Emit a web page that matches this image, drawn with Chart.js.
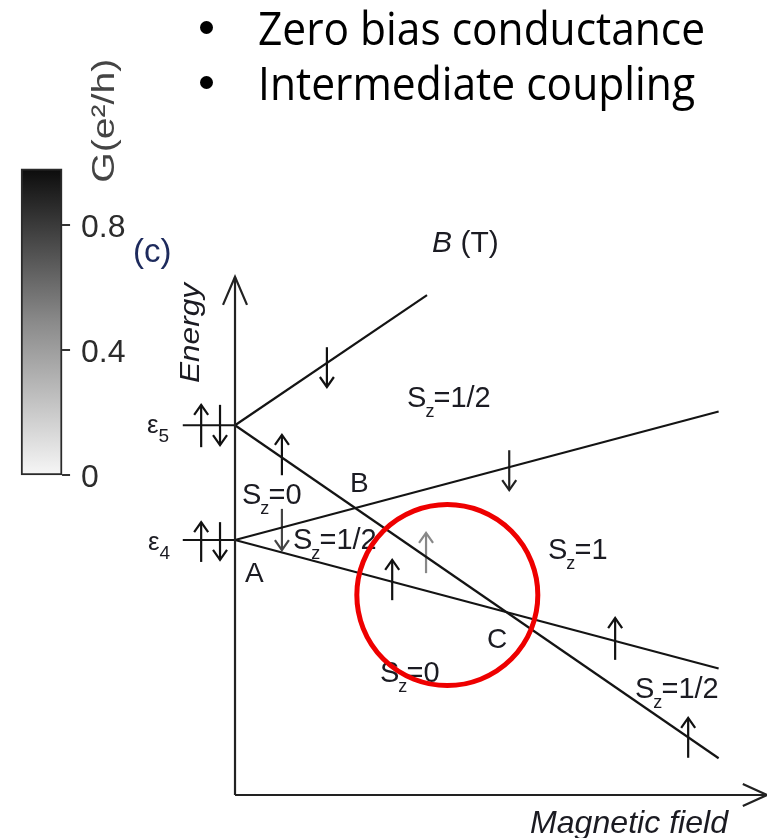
<!DOCTYPE html>
<html>
<head>
<meta charset="utf-8">
<script src="https://cdn.jsdelivr.net/npm/chart.js@4.4.1/dist/chart.umd.min.js"></script>
<style>
  html, body { margin:0; padding:0; background:#fff; width:767px; height:838px; overflow:hidden; }
  #wrap { position:relative; width:767px; height:838px; }
  #c { position:absolute; left:0; top:0; }
  .bl { position:absolute; left:0; top:0; font-family:"Open Sans", "Noto Sans", sans-serif; font-weight:400; font-size:45px; line-height:1; color:#000; white-space:nowrap; }
  .bl .txt { display:inline-block; transform-origin:0 50%; }
  .bl .mk { display:inline-block; width:0; height:0; vertical-align:baseline; }
  .dot { position:absolute; width:13px; height:13px; border-radius:50%; background:#000; }
</style>
</head>
<body>
<div id="wrap">
  <canvas id="c" width="767" height="838"></canvas>
</div>
<script>
// ================= DATA =================
// bullet text above the figure
const bulletItems = ['Zero bias conductance', 'Intermediate coupling'];

// colour bar of the conductance G (e^2/h)
const cbarTicks = [0, 0.4, 0.8];
const cbarTop = 0.98;
const cbarTitle = 'G(e²/h)';

// single-particle levels at zero field (energy, arbitrary units)
const levelSymbol = ['ε', 'ε'];
const levelIndex = ['5', '4'];
const levelEnergy = [7.25, 5.0];

// Zeeman branches: start at B = 0 on a level, end point (B, E)
const branchStartE = [7.25, 7.25, 5.0, 5.0];
const branchEndB   = [3.97, 10.0, 10.0, 10.0];
const branchEndE   = [9.80, 0.72, 7.52, 2.48];

// axis extents (field, energy)
const energyAxisTop = 10.16;
const fieldAxisEnd = 11.0;

// spin arrows: field position, tail energy, head energy
const spinB    = [-0.70, -0.31, -0.70, -0.31, 1.90, 0.97, 5.67, 0.97, 3.25, 3.95, 7.86, 9.37];
const spinTail = [ 6.82,  7.65,  4.57,  5.35, 8.78, 6.27, 6.76, 5.61, 3.82, 4.35, 2.65, 0.73];
const spinHead = [ 7.65,  6.86,  5.35,  4.61, 8.00, 7.06, 5.98, 4.80, 4.61, 5.14, 3.47, 1.51];

// ground-state spin of each region
const regionSz = ['1/2', '0', '1/2', '1', '0', '1/2'];
// crossing points
const pointNames = ['A', 'B', 'C'];
// highlighted crossing (red circle centre)
const highlightB = 4.39;
const highlightE = 3.92;

// ================= LAYOUT / STYLE =================
const X_MIN = -4.8594, X_MAX = 11.0;
const Y_MIN = -0.8431, Y_MAX = 15.588;
const G_MIN = -1.1616, G_MAX = 1.52;
const CBAR_B = -4.0;
const LEVEL_STUB_B = -1.08;
const regionAt = [[3.557, 7.608], [0.145, 5.706], [1.199, 4.824], [6.472, 4.627], [2.998, 2.216], [8.271, 1.902]];
const pointAt = [[0.207, 4.176], [2.378, 5.941], [5.211, 2.882]];
const levelLabelAt = [[-1.82, 7.098], [-1.80, 4.804]];
const spinShade = ['#111','#111','#111','#111','#111','#111','#222','#444','#111','#888','#111','#111'];
const INK = '#1b1b22';
const FONT = '"Liberation Sans", Arial, sans-serif';

// ================= BULLETS (HTML text) =================
const bulletLayout = { dotCx: 206, dotOffset: 17.5, textLeft: 258, baselines: [45, 100], widths: [447, 437] };
const wrap = document.getElementById('wrap');
bulletItems.forEach((t, i) => {
  const dot = document.createElement('div');
  dot.className = 'dot';
  dot.style.left = (bulletLayout.dotCx - 6.5) + 'px';
  dot.style.top = (bulletLayout.baselines[i] - bulletLayout.dotOffset - 6.5) + 'px';
  wrap.appendChild(dot);
  const row = document.createElement('div');
  row.className = 'bl';
  row.innerHTML = '<span class="txt"></span><span class="mk"></span>';
  row.querySelector('.txt').textContent = t;
  wrap.appendChild(row);
  const mk = row.querySelector('.mk');
  const base = mk.offsetTop;
  row.style.top = (bulletLayout.baselines[i] - base) + 'px';
  row.style.left = bulletLayout.textLeft + 'px';
  const span = row.querySelector('.txt');
  const w = span.getBoundingClientRect().width;
  span.style.transform = 'scaleX(' + (bulletLayout.widths[i] / w) + ')';
});

// ================= CHART =================
function seg(b0, e0, b1, e1) { return [{x: b0, y: e0}, {x: b1, y: e1}]; }
const lineStyle = { type: 'line', borderColor: '#141414', borderWidth: 2.2, pointRadius: 0, fill: false, tension: 0, order: 1 };
const datasets = [];

// highlight circle (top-most)
datasets.push({ type: 'line', showLine: false, data: [{x: highlightB, y: highlightE}],
  pointRadius: 90.5, pointBorderWidth: 5, pointBorderColor: '#ee0000',
  pointBackgroundColor: 'rgba(0,0,0,0)', pointHoverRadius: 90.5, order: 0, clip: false });

// axes
datasets.push(Object.assign({}, lineStyle, { data: seg(0, 0, 0, energyAxisTop), borderColor: '#222' }));
datasets.push(Object.assign({}, lineStyle, { data: seg(0, 0, fieldAxisEnd, 0), borderColor: '#222' }));
// axis arrow heads (open V)
datasets.push(Object.assign({}, lineStyle, { borderColor: '#222', data: [
  {x: -0.248, y: energyAxisTop - 0.55}, {x: 0, y: energyAxisTop}, {x: 0.248, y: energyAxisTop - 0.55}] }));
datasets.push(Object.assign({}, lineStyle, { borderColor: '#222', data: [
  {x: fieldAxisEnd - 0.50, y: 0.216}, {x: fieldAxisEnd, y: 0}, {x: fieldAxisEnd - 0.50, y: -0.216}] }));
// level stubs
levelEnergy.forEach(e => datasets.push(Object.assign({}, lineStyle, { data: seg(LEVEL_STUB_B, e, 0, e) })));
// Zeeman branches
branchStartE.forEach((e0, i) => datasets.push(Object.assign({}, lineStyle,
  { data: seg(0, e0, branchEndB[i], branchEndE[i]) })));

// colour bar
datasets.push({ type: 'bar', yAxisID: 'g', xAxisID: 'x', order: 2,
  data: [{x: CBAR_B, y: [0, cbarTop]}], barThickness: 41,
  borderWidth: 2, borderColor: '#2a2a2a', borderSkipped: false,
  backgroundColor: (ctx) => {
    const ch = ctx.chart; const s = ch.scales.g;
    if (!s) return '#888';
    const p0 = s.getPixelForValue(0), p1 = s.getPixelForValue(cbarTop);
    if (!isFinite(p0) || !isFinite(p1) || p0 === p1) return '#888';
    const g = ch.ctx.createLinearGradient(0, p0, 0, p1);
    g.addColorStop(0, '#f6f6f6'); g.addColorStop(0.5, '#8a8a8a'); g.addColorStop(1, '#0c0c0c');
    return g;
  } });

function drawSz(c, x, y, val, size) {
  c.font = size + 'px ' + FONT;
  c.fillText('S', x, y);
  const ws = c.measureText('S').width;
  c.font = Math.round(size * 0.62) + 'px ' + FONT;
  c.fillText('z', x + ws - 1, y + size * 0.36);
  const wz = c.measureText('z').width;
  c.font = size + 'px ' + FONT;
  c.fillText('=' + val, x + ws + wz * 0.9 - 1, y);
}
function fitText(c, txt, x, y, target) {
  const w = c.measureText(txt).width;
  c.save(); c.translate(x, y); c.scale(target / w, 1); c.fillText(txt, 0, 0); c.restore();
}

const annot = {
  id: 'annot',
  beforeDatasetsDraw(chart) {
    const c = chart.ctx, X = chart.scales.x, Y = chart.scales.y, G = chart.scales.g;
    const px = v => X.getPixelForValue(v), py = v => Y.getPixelForValue(v);
    c.save();
    c.textAlign = 'left'; c.textBaseline = 'alphabetic';
    c.fillStyle = INK;
    // region labels
    regionSz.forEach((v, i) => drawSz(c, px(regionAt[i][0]), py(regionAt[i][1]), v, 29));
    // crossing names
    c.font = '28px ' + FONT;
    pointNames.forEach((n, i) => c.fillText(n, px(pointAt[i][0]), py(pointAt[i][1])));
    // level labels
    levelSymbol.forEach((s, i) => {
      const x = px(levelLabelAt[i][0]), y = py(levelLabelAt[i][1]);
      c.font = '26px ' + FONT; c.fillText(s, x, y);
      const w = c.measureText(s).width;
      c.font = '19px ' + FONT; c.fillText(levelIndex[i], x + w, y + 9);
    });
    // (c)
    c.fillStyle = '#1d2a5c'; c.font = '33px ' + FONT;
    c.fillText('(c)', px(-2.109), py(10.45));
    c.fillStyle = INK;
    // B (T)
    let bx = px(4.074), by = py(10.647);
    c.font = 'italic 30px ' + FONT; c.fillText('B', bx, by);
    let wb = c.measureText('B').width;
    c.font = '30px ' + FONT; c.fillText(' (T)', bx + wb, by);
    // Magnetic field
    c.font = 'italic 32px ' + FONT;
    fitText(c, 'Magnetic field', px(6.1), py(-0.745), 198);
    // Energy (rotated)
    c.save();
    c.translate(px(-0.745), py(8.078)); c.rotate(-Math.PI / 2);
    c.font = 'italic 28px ' + FONT; fitText(c, 'Energy', 0, 0, 100);
    c.restore();
    // spin arrows
    spinB.forEach((b, i) => {
      const x = px(b), y0 = py(spinTail[i]), y1 = py(spinHead[i]);
      const d = y1 < y0 ? 1 : -1;
      c.strokeStyle = spinShade[i]; c.lineWidth = 2.2; c.lineCap = 'butt';
      c.beginPath(); c.moveTo(x, y0); c.lineTo(x, y1); c.stroke();
      c.beginPath(); c.moveTo(x - 7, y1 + d * 10); c.lineTo(x, y1); c.lineTo(x + 7, y1 + d * 10); c.stroke();
    });
    // colour-bar ticks and labels
    const bar = chart.getDatasetMeta(chart.data.datasets.length - 1).data[0];
    const right = (bar && isFinite(bar.x)) ? bar.x + bar.width / 2 : px(CBAR_B) + 20.5;
    c.strokeStyle = '#333'; c.lineWidth = 2;
    c.fillStyle = '#2c2c2c'; c.font = '32px ' + FONT; c.textBaseline = 'middle';
    cbarTicks.forEach(t => {
      const y = G.getPixelForValue(t);
      c.beginPath(); c.moveTo(right, y); c.lineTo(right + 8, y); c.stroke();
      c.fillText(String(t), right + 19, y + 3);
    });
    // colour-bar title (rotated)
    c.textBaseline = 'alphabetic'; c.fillStyle = '#444';
    c.save();
    c.translate(114, G.getPixelForValue(cbarTop) + 14); c.rotate(-Math.PI / 2);
    c.font = '32px ' + FONT;
    fitText(c, cbarTitle, 0, 0, 124);
    c.restore();
    c.restore();
  }
};

new Chart(document.getElementById('c'), {
  type: 'line',
  data: { datasets },
  options: {
    responsive: false, animation: false, devicePixelRatio: 1, events: [],
    layout: { padding: 0, autoPadding: false },
    plugins: { legend: { display: false }, tooltip: { enabled: false }, title: { display: false } },
    scales: {
      x: { type: 'linear', min: X_MIN, max: X_MAX, display: false, offset: false, grid: { offset: false } },
      y: { type: 'linear', min: Y_MIN, max: Y_MAX, display: false },
      g: { type: 'linear', min: G_MIN, max: G_MAX, display: false, position: 'left' }
    }
  },
  plugins: [annot]
});
</script>
</body>
</html>
